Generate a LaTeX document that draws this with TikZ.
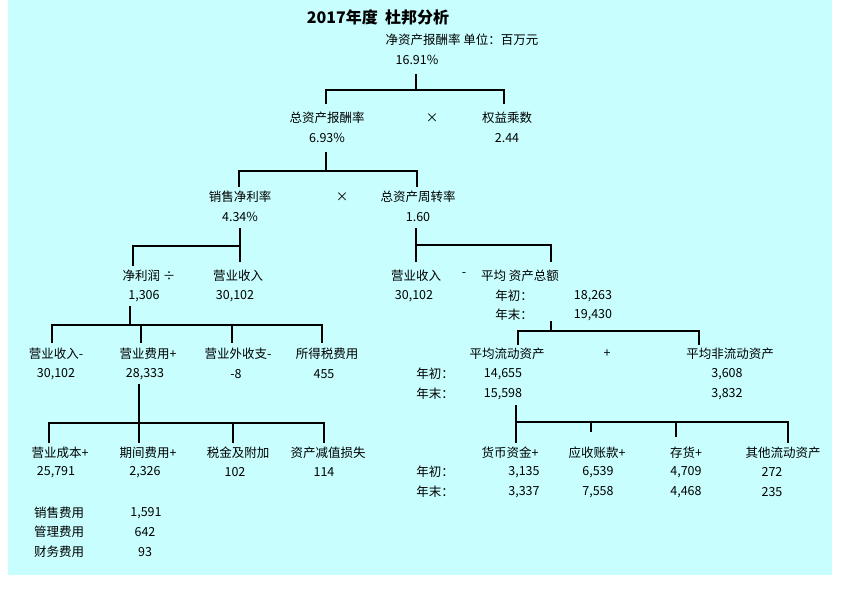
\documentclass[tikz,border=0pt]{standalone}
\usepackage{fontspec}
\setmainfont{Noto Sans CJK SC}
\definecolor{bg}{HTML}{C8FEFE}
\begin{document}
\begin{tikzpicture}[x=1pt,y=-1pt,
  t/.style={inner sep=0pt,font=\fontsize{12.5}{14}\selectfont},
  ln/.style={line width=1.2pt}]
\useasboundingbox (0,0) rectangle (867,592);
\fill[bg] (8,0) rectangle (832,575);
\node[t,font=\fontsize{16}{18}\bfseries\selectfont] (title) at (378,17) {2017年度\ \ 杜邦分析};
\node[t] (roe) at (462,40) {净资产报酬率 单位：百万元};
\node[t] (roev) at (417,60) {16.91\%};
\draw[ln] (416,74) -- (416,90) (326,104) |- (504,90) -- (504,104);
\node[t] (roa) at (327,118) {总资产报酬率};
\node[t] (roav) at (327,138) {6.93\%};
\node[t] (x1) at (432,118) {×};
\node[t] (em) at (507,118) {权益乘数};
\node[t] (emv) at (507,138) {2.44};
\draw[ln] (326,152) -- (326,171) (239,187) |- (417,171) -- (417,187);
\node[t] (npm) at (240,197) {销售净利率};
\node[t] (npmv) at (240,217) {4.34\%};
\node[t] (x2) at (342,197) {×};
\node[t] (tat) at (418,197) {总资产周转率};
\node[t] (tatv) at (418,217) {1.60};
% left branch
\draw[ln] (240,228) -- (240,262) (240,246) -- (133,246) -- (133,266);
\node[t] (np) at (149,276) {净利润 ÷};
\node[t] (npv) at (144,296) {1,306};
\node[t] (rev1) at (238,276) {营业收入};
\node[t] (rev1v) at (235,296) {30,102};
% right branch
\draw[ln] (416,228) -- (416,262) (416,245) -| (551,262);
\node[t] (rev2) at (416,276) {营业收入};
\node[t] (rev2v) at (414,296) {30,102};
\node[t] (minus) at (464,275) {-};
\node[t] (ta) at (520,276) {平均 资产总额};
\node[t] (ta1) at (514,296) {年初：};
\node[t] (ta1v) at (593,296) {18,263};
\node[t] (ta2) at (514,315) {年末：};
\node[t] (ta2v) at (593,315) {19,430};
\draw[ln] (551,321) -- (551,331) (518,345) |- (699,331) -- (699,345);
\node[t] (ca) at (507,354) {平均流动资产};
\node[t] (plus) at (607,354) {+};
\node[t] (nca) at (730,354) {平均非流动资产};
\node[t] (ca1) at (435,374) {年初：};
\node[t] (ca1v) at (503,374) {14,655};
\node[t] (nca1v) at (727,374) {3,608};
\node[t] (ca2) at (435,394) {年末：};
\node[t] (ca2v) at (503,394) {15,598};
\node[t] (nca2v) at (727,394) {3,832};
\draw[ln] (516,405) -- (516,443) (516,422) -- (788,422) -- (788,443) (591,422) -- (591,432) (676,422) -- (676,437);
\node[t] (cash) at (510,453) {货币资金+};
\node[t] (ar) at (597,453) {应收账款+};
\node[t] (inv) at (686,453) {存货+};
\node[t] (oca) at (783,453) {其他流动资产};
\node[t] (y1) at (435,472) {年初：};
\node[t] at (524,472) {3,135};
\node[t] at (598,472) {6,539};
\node[t] at (686,472) {4,709};
\node[t] at (772,472) {272};
\node[t] (y2) at (435,492) {年末：};
\node[t] at (524,492) {3,337};
\node[t] at (598,492) {7,558};
\node[t] at (686,492) {4,468};
\node[t] at (772,492) {235};
% net profit breakdown
\draw[ln] (130,306) -- (130,325) (52,343) |- (322,325) -- (322,343) (141,325) -- (141,343) (232,325) -- (232,343);
\node[t] at (56,354) {营业收入-};
\node[t] at (56,374) {30,102};
\node[t] at (148,354) {营业费用+};
\node[t] at (145,374) {28,333};
\node[t] at (238,354) {营业外收支-};
\node[t] at (236,374) {-8};
\node[t] at (327,354) {所得税费用};
\node[t] at (324,374) {455};
\draw[ln] (139,384) -- (139,443) (49,443) |- (324,423) -- (324,443) (233,423) -- (233,443);
\node[t] at (60,453) {营业成本+};
\node[t] at (56,472) {25,791};
\node[t] at (148,453) {期间费用+};
\node[t] at (145,472) {2,326};
\node[t] at (238,453) {税金及附加};
\node[t] at (235,472) {102};
\node[t] at (328,453) {资产减值损失};
\node[t] at (324,472) {114};
\node[t] at (59,513) {销售费用};
\node[t] at (146,513) {1,591};
\node[t] at (59,532) {管理费用};
\node[t] at (145,532) {642};
\node[t] at (59,552) {财务费用};
\node[t] at (145,552) {93};
\end{tikzpicture}
\end{document}
